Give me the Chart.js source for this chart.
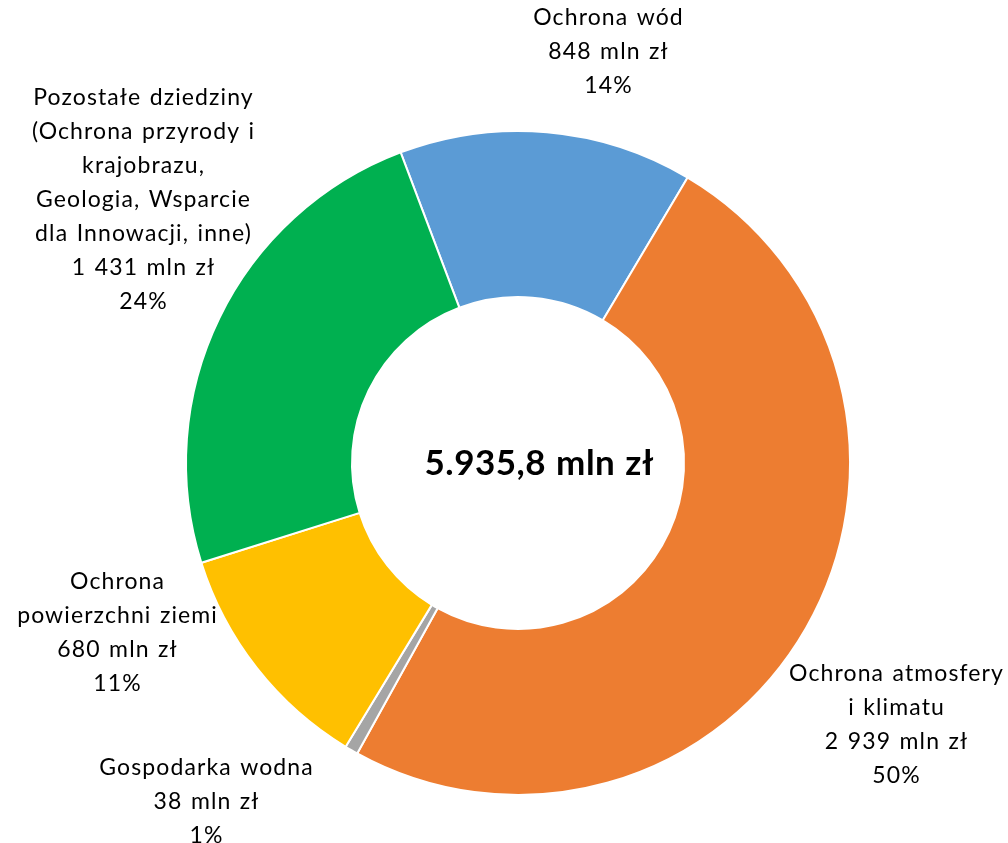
<!DOCTYPE html>
<html><head><meta charset="utf-8">
<script src="https://cdn.jsdelivr.net/npm/chart.js@4.4.1/dist/chart.umd.min.js"></script>
<style>html,body{margin:0;padding:0;background:#fff;}#wrap{width:1008px;height:843px;position:relative;}</style>
</head><body><div id="wrap"><canvas id="c" width="1008" height="843"></canvas></div>
<script>
const categories = ["Ochrona wód", "Ochrona atmosfery i klimatu", "Gospodarka wodna", "Ochrona powierzchni ziemi", "Pozostałe dziedziny (Ochrona przyrody i krajobrazu, Geologia, Wsparcie dla Innowacji, inne)"];
const values = [848, 2939, 38, 680, 1431];
const valueLabels = ["848 mln zł", "2 939 mln zł", "38 mln zł", "680 mln zł", "1 431 mln zł"];
const percentLabels = ["14%", "50%", "1%", "11%", "24%"];
const centerLabel = "5.935,8 mln zł";
const colors = ["#5B9BD5", "#ED7D31", "#A5A5A5", "#FFC000", "#00B050"];

// label line wrapping as in the reference (layout only)
const labelLines = [
  ["Ochrona wód"],
  ["Ochrona atmosfery", "i klimatu"],
  ["Gospodarka wodna"],
  ["Ochrona", "powierzchni ziemi"],
  ["Pozostałe dziedziny", "(Ochrona przyrody i", "krajobrazu,", "Geologia, Wsparcie", "dla Innowacji, inne)"]
];
// label box centers (x) and first-line centers (y)
const labelPos = [[608, 18], [896, 674], [206, 768], [117, 582], [143, 98]];
const centerOffsetX = 21;

const FONT = "Lato, 'Open Sans', sans-serif";
function spaced(ctx, t, x, y, ls) {
  ctx.letterSpacing = ls + 'px';
  const w = ctx.measureText(t).width;
  ctx.textAlign = 'left';
  ctx.fillText(t, x - (w - ls) / 2, y);
}
const labelsPlugin = {
  id: 'labels',
  afterDraw(chart) {
    const ctx = chart.ctx;
    ctx.save();
    ctx.fillStyle = '#000';
    ctx.textBaseline = 'middle';
    ctx.font = "23px " + FONT;
    ctx.wordSpacing = '1.5px';
    const lh = 34;
    labelLines.forEach((lines, i) => {
      const all = lines.concat([valueLabels[i], percentLabels[i]]);
      all.forEach((t, j) => spaced(ctx, t, labelPos[i][0], labelPos[i][1] + j * lh, 1.1));
    });
    const meta = chart.getDatasetMeta(0);
    const arc = meta.data[0];
    ctx.font = "bold 35px " + FONT;
    ctx.wordSpacing = '1px';
    spaced(ctx, centerLabel, arc.x + centerOffsetX, arc.y + 1, 0.5);
    ctx.restore();
  }
};

new Chart(document.getElementById('c'), {
  type: 'doughnut',
  data: {
    labels: categories,
    datasets: [{ data: values, backgroundColor: colors, borderColor: '#fff', borderWidth: 2 }]
  },
  options: {
    responsive: false,
    animation: false,
    rotation: -20.7,
    cutout: '50%',
    layout: { padding: { left: 185, right: 157, top: 130, bottom: 47 } },
    plugins: { legend: { display: false }, tooltip: { enabled: false } }
  },
  plugins: [labelsPlugin]
});
</script></body></html>
